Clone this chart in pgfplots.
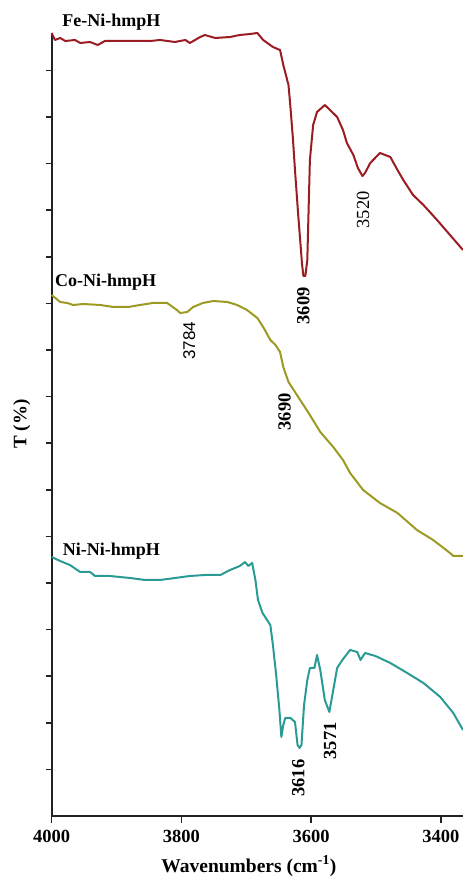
\documentclass[border=0pt]{standalone}
\usepackage{pgfplots}
\pgfplotsset{compat=1.18}
\usepackage{fontspec}
\setmainfont{Liberation Serif}
\newfontfamily\arialfont{Liberation Sans}
\definecolor{feRed}{HTML}{9B1C22}
\definecolor{coOlive}{HTML}{9C9A22}
\definecolor{niTeal}{HTML}{2A9A95}
\definecolor{axisGray}{HTML}{222222}
\begin{document}
\begin{tikzpicture}
\path[use as bounding box] (-51.7pt,-62pt) rectangle (411.3pt,816pt);
% y axis with its ticks
\begin{axis}[
  scale only axis,
  width=411.3pt, height=783pt,
  xmin=0, xmax=1, ymin=0, ymax=783,
  axis x line=none,
  axis y line=left,
  axis line style={-, line width=1.8pt, axisGray},
  tick style={line width=1.5pt, axisGray},
  major tick length=6pt,
  tick align=outside,
  ytick={46.6,93.2,139.8,186.4,233,279.6,326.2,372.8,419.4,466,512.6,559.2,605.8,652.4,699,745.6},
  yticklabels={},
]
\end{axis}
\begin{axis}[
  scale only axis,
  width=411.3pt, height=783pt,
  x dir=reverse,
  xmin=3366, xmax=4000,
  ymin=0, ymax=783,
  axis x line=bottom,
  axis y line=none,
  axis line style={-, line width=1.8pt, axisGray},
  tick style={line width=1.5pt, axisGray},
  major tick length=7pt,
  tick align=outside,
  xtick={4000,3800,3600,3400},
  xticklabels={4000,3800,3600,3400},
  xticklabel style={font=\bfseries\fontsize{18.5}{20}\selectfont, yshift=-4pt},
  clip=false,
  every axis plot/.append style={line width=2pt, line join=round},
]
\addplot[feRed] coordinates {
(4000,783) (3995,776) (3987,778) (3979,775) (3964,776) (3956,773) (3941,774) (3929,771)
(3918,775) (3848,775) (3833,776) (3810,774) (3794,776) (3787,773) (3771,779) (3764,781)
(3748,778) (3725,779) (3710,781) (3694,782) (3683,783) (3674,776) (3659,769) (3648,766)
(3643,751) (3635,731) (3632,709) (3628,676) (3625,646) (3620,601) (3617,576) (3614,551)
(3612,540) (3609,540) (3606,556) (3604,606) (3602,656) (3597,691) (3591,704) (3579,711)
(3571,706) (3560,699) (3551,686) (3545,673) (3535,661) (3528,648) (3521,640) (3517,643)
(3509,653) (3494,663) (3478,659) (3467,646) (3458,636) (3443,621) (3427,611) (3406,596)
(3390,584) (3366,566)
};
\addplot[coOlive] coordinates {
(4000,521) (3987,514) (3976,513) (3967,511) (3952,512) (3925,511) (3905,509) (3882,509)
(3864,511) (3844,513) (3822,513) (3807,506) (3802,503) (3791,504) (3782,509) (3767,513)
(3751,515) (3729,514) (3714,511) (3699,506) (3683,498) (3674,489) (3663,476) (3655,471)
(3648,464) (3643,449) (3635,434) (3617,416) (3602,401) (3586,384) (3566,369) (3551,356)
(3540,343) (3520,326) (3494,313) (3467,303) (3437,286) (3412,276) (3386,263) (3381,260)
(3366,260)
};
\addplot[niTeal] coordinates {
(4000,259) (3987,255) (3972,251) (3956,244) (3941,244) (3933,240) (3910,240) (3895,239)
(3879,238) (3856,236) (3833,236) (3810,238) (3787,240) (3764,241) (3740,241) (3725,246)
(3710,250) (3702,254) (3697,250) (3691,253) (3686,236) (3682,216) (3675,203) (3668,196)
(3663,191) (3659,171) (3654,141) (3649,106) (3646,79) (3643,91) (3640,98) (3632,98)
(3625,94) (3621,71) (3618,68) (3615,71) (3611,111) (3606,136) (3602,148) (3595,148)
(3591,161) (3586,146) (3579,116) (3572,104) (3566,126) (3560,148) (3552,156) (3540,166)
(3529,164) (3524,156) (3517,163) (3501,160) (3478,153) (3452,143) (3427,133) (3401,119)
(3381,103) (3366,86)
};
\def\lblfont{\bfseries\fontsize{18}{20}\selectfont}
\def\pkfont{\fontsize{18.5}{20}\selectfont}
\node[anchor=west, inner sep=0pt, font=\lblfont] at (axis cs:3984,794) {Fe-Ni-hmpH};
\node[anchor=west, inner sep=0pt, font=\lblfont] at (axis cs:3995,534) {Co-Ni-hmpH};
\node[anchor=west, inner sep=0pt, font=\lblfont] at (axis cs:3983,265) {Ni-Ni-hmpH};
\node[rotate=90, inner sep=0pt, font=\pkfont\bfseries] at (axis cs:3612,510) {3609};
\node[rotate=90, inner sep=0pt, font=\pkfont] at (axis cs:3520,606) {3520};
\node[rotate=90, inner sep=0pt, font=\arialfont\fontsize{17}{19}\selectfont] at (axis cs:3788,475) {3784};
\node[rotate=90, inner sep=0pt, font=\pkfont\bfseries] at (axis cs:3641,404) {3690};
\node[rotate=90, inner sep=0pt, font=\pkfont\bfseries] at (axis cs:3620,38) {3616};
\node[rotate=90, inner sep=0pt, font=\pkfont\bfseries] at (axis cs:3571,75) {3571};
\node[inner sep=0pt, font=\bfseries\fontsize{19.5}{21}\selectfont] at (axis cs:3696,-50) {Wavenumbers (cm\textsuperscript{-1})};
\node[rotate=90, inner sep=0pt, font=\bfseries\fontsize{19}{21}\selectfont] at (axis cs:4046,392) {T (\%)};
\end{axis}
\end{tikzpicture}
\end{document}
